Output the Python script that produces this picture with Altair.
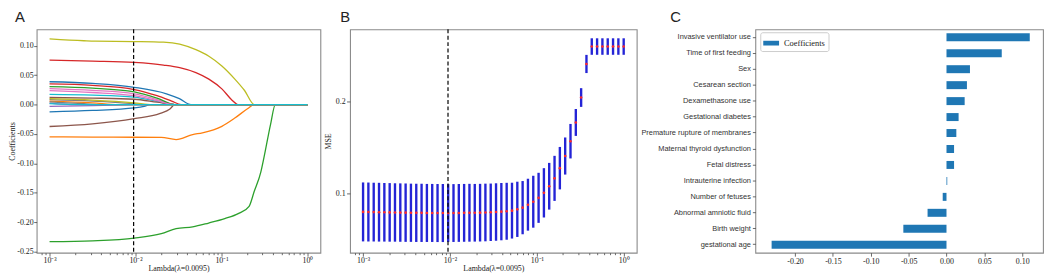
import altair as alt
import pandas as pd

# ---------------- Panel A: LASSO coefficient paths (log10 lambda, coefficient) ----------------
PATH_BLUE_NEG = [(-3, -0.0123), (-2.5, -0.0100), (-2.015, -0.0057), (-1.9, -0.0030), (-1.83, 0.0), (0, 0.0)]
PATH_ORANGE_BW = [(-3, -0.0550), (-2.5, -0.0553), (-2.015, -0.0556), (-1.7, -0.0558), (-1.528, -0.0595),
                  (-1.336, -0.0510), (-1.222, -0.0480), (-0.996, -0.0370), (-0.845, -0.0230),
                  (-0.694, -0.0067), (-0.619, 0.0), (0, 0.0)]
PATH_GREEN_GA = [(-3, -0.2333), (-2.5, -0.2318), (-2.015, -0.2272), (-1.7, -0.2195), (-1.528, -0.2110),
                 (-1.336, -0.2080), (-1.15, -0.2015), (-0.962, -0.1940), (-0.8, -0.1850), (-0.679, -0.1730),
                 (-0.62, -0.1480), (-0.543, -0.1150), (-0.506, -0.0900), (-0.43, -0.0340), (-0.374, 0.0), (0, 0.0)]
PATH_RED_FEED = [(-3, 0.0756), (-2.5, 0.0740), (-2.015, 0.0717), (-1.675, 0.0672), (-1.487, 0.0628),
                 (-1.298, 0.0544), (-1.147, 0.0433), (-0.996, 0.0267), (-0.883, 0.0083), (-0.808, 0.0), (0, 0.0)]
PATH_PURPLE_1 = [(-3, -0.0030), (-2.5, -0.0020), (-2.015, -0.0003), (-1.95, 0.0), (0, 0.0)]
PATH_BROWN_AMN = [(-3, -0.0373), (-2.5, -0.0330), (-2.015, -0.0240), (-1.713, -0.0150), (-1.6, -0.0075),
                  (-1.543, 0.0), (0, 0.0)]
PATH_PINK_1 = [(-3, 0.0270), (-2.5, 0.0240), (-2.015, 0.0183), (-1.75, 0.0085), (-1.543, 0.0), (0, 0.0)]
PATH_GRAY_1 = [(-3, 0.0085), (-2.5, 0.0060), (-2.015, 0.0015), (-1.9, 0.0), (0, 0.0)]
PATH_OLIVE_VENT = [(-3, 0.1117), (-2.6, 0.1085), (-2.47, 0.1078), (-2.015, 0.1072), (-1.675, 0.1061),
                   (-1.487, 0.1028), (-1.298, 0.0933), (-1.147, 0.0822), (-0.996, 0.0656), (-0.845, 0.0433),
                   (-0.732, 0.0239), (-0.619, 0.0), (0, 0.0)]
PATH_CYAN_1 = [(-3, 0.0172), (-2.5, 0.0160), (-2.015, 0.0127), (-1.75, 0.0055), (-1.543, 0.0), (0, 0.0)]
PATH_BLUE_SEX = [(-3, 0.0388), (-2.5, 0.0360), (-2.015, 0.0294), (-1.64, 0.0183), (-1.49, 0.0100),
                 (-1.355, 0.0), (0, 0.0)]
PATH_ORANGE_2 = [(-3, 0.0060), (-2.5, 0.0030), (-2.2, 0.0), (0, 0.0)]
PATH_GREEN_DEXA = [(-3, 0.0305), (-2.5, 0.0280), (-2.015, 0.0217), (-1.75, 0.0110), (-1.543, 0.0), (0, 0.0)]
PATH_RED_CES = [(-3, 0.0350), (-2.5, 0.0325), (-2.015, 0.0255), (-1.75, 0.0150), (-1.58, 0.0060),
                (-1.47, 0.0), (0, 0.0)]
PATH_PURPLE_2 = [(-3, 0.0025), (-2.7, 0.0), (0, 0.0)]
PATH_BROWN_2 = [(-3, 0.0120), (-2.5, 0.0110), (-2.015, 0.0090), (-1.75, 0.0040), (-1.543, 0.0), (0, 0.0)]
PATH_PINK_2 = [(-3, 0.0238), (-2.5, 0.0205), (-2.015, 0.0150), (-1.75, 0.0065), (-1.543, 0.0), (0, 0.0)]
PATH_GRAY_2 = [(-3, 0.0045), (-2.6, 0.0015), (-2.4, 0.0), (0, 0.0)]
PATH_OLIVE_2 = [(-3, 0.0100), (-2.5, 0.0075), (-2.015, 0.0030), (-1.8, 0.0), (0, 0.0)]
PATH_CYAN_2 = [(-3, 0.0015), (-2.6, 0.0), (0, 0.0)]

PATHS = [PATH_BLUE_NEG, PATH_ORANGE_BW, PATH_GREEN_GA, PATH_RED_FEED, PATH_PURPLE_1, PATH_BROWN_AMN,
         PATH_PINK_1, PATH_GRAY_1, PATH_OLIVE_VENT, PATH_CYAN_1, PATH_BLUE_SEX, PATH_ORANGE_2,
         PATH_GREEN_DEXA, PATH_RED_CES, PATH_PURPLE_2, PATH_BROWN_2, PATH_PINK_2, PATH_GRAY_2,
         PATH_OLIVE_2, PATH_CYAN_2]
CYCLE = ["#1f77b4", "#ff7f0e", "#2ca02c", "#d62728", "#9467bd",
         "#8c564b", "#e377c2", "#7f7f7f", "#bcbd22", "#17becf"]

LAMBDA_BEST = 0.0095

# ---------------- Panel B: cross-validated MSE ----------------
LAMBDAS = [0.001, 0.001151, 0.001326, 0.001526, 0.001758, 0.002024, 0.00233, 0.002683, 0.003089, 0.003556,
           0.004095, 0.004715, 0.005429, 0.006251, 0.007197, 0.008286, 0.009541, 0.01099, 0.01265, 0.01456,
           0.01677, 0.01931, 0.02223, 0.0256, 0.02947, 0.03393, 0.03907, 0.04498, 0.05179, 0.05964,
           0.06866, 0.07906, 0.09103, 0.1048, 0.1207, 0.1389, 0.16, 0.1842, 0.2121, 0.2442,
           0.2812, 0.3237, 0.3728, 0.4292, 0.4942, 0.569, 0.6551, 0.7543, 0.8685, 1.0]
MSE_MEAN = [0.0805, 0.0804, 0.0803, 0.0802, 0.0801, 0.0800, 0.0799, 0.0798, 0.0797, 0.0796,
            0.0795, 0.0795, 0.0794, 0.0794, 0.0793, 0.0793, 0.0793, 0.0793, 0.0794, 0.0795,
            0.0796, 0.0796, 0.0797, 0.0799, 0.0801, 0.0804, 0.0808, 0.0812, 0.0819, 0.0833,
            0.0851, 0.0883, 0.0915, 0.0957, 0.1011, 0.1082, 0.1167, 0.1277, 0.1408, 0.1568,
            0.1770, 0.2039, 0.2401, 0.2589, 0.2589, 0.2589, 0.2589, 0.2589, 0.2589, 0.2589]
MSE_STD = [0.0318, 0.0318, 0.0317, 0.0317, 0.0316, 0.0316, 0.0315, 0.0315, 0.0315, 0.0314,
           0.0314, 0.0314, 0.0313, 0.0313, 0.0313, 0.0313, 0.0312, 0.0312, 0.0312, 0.0312,
           0.0312, 0.0311, 0.0311, 0.0311, 0.0310, 0.0310, 0.0309, 0.0307, 0.0301, 0.0298,
           0.0287, 0.0280, 0.0280, 0.0270, 0.0266, 0.0252, 0.0243, 0.0229, 0.0200, 0.0186,
           0.0145, 0.0101, 0.0098, 0.0089, 0.0089, 0.0089, 0.0089, 0.0089, 0.0089, 0.0089]

# ---------------- Panel C: coefficients ----------------
FEATURES = ["Invasive ventilator use", "Time of first feeding", "Sex", "Cesarean section",
            "Dexamethasone use", "Gestational diabetes", "Premature rupture of membranes",
            "Maternal thyroid dysfunction", "Fetal distress", "Intrauterine infection",
            "Number of fetuses", "Abnormal amniotic fluid", "Birth weight", "gestational age"]
COEFS = [0.110, 0.073, 0.031, 0.027, 0.024, 0.016, 0.013, 0.010, 0.010, 0.001,
         -0.005, -0.025, -0.057, -0.231]

# ---------------- tables ----------------
rows = []
for k, path in enumerate(PATHS):
    for (L, c) in path:
        rows.append({"sid": f"s{k:02d}", "lam": 10 ** L, "coef": c})
dfA = pd.DataFrame(rows)
sids = [f"s{k:02d}" for k in range(len(PATHS))]
cols = [CYCLE[k % 10] for k in range(len(PATHS))]

dfB = pd.DataFrame({"lam": LAMBDAS, "mse": MSE_MEAN, "std": MSE_STD})
dfB["lo"] = dfB["mse"] - dfB["std"]
dfB["hi"] = dfB["mse"] + dfB["std"]

dfC = pd.DataFrame({"feature": FEATURES, "coef": COEFS, "series": "Coefficients"})
dfBest = pd.DataFrame({"lam": [LAMBDA_BEST]})

SERIF = "Liberation Serif"
H = 226
XDOM = [10 ** -3.15, 10 ** 0.15]
XVALS = [0.0008, 0.0009, 0.001, 0.002, 0.003, 0.004, 0.005, 0.006, 0.007, 0.008, 0.009,
         0.01, 0.02, 0.03, 0.04, 0.05, 0.06, 0.07, 0.08, 0.09,
         0.1, 0.2, 0.3, 0.4, 0.5, 0.6, 0.7, 0.8, 0.9, 1.0]
MAJOR = "datum.value == 0.001 || datum.value == 0.01 || datum.value == 0.1 || datum.value == 1"
LBL = ("datum.value == 0.001 ? '10\u207b\u00b3' : datum.value == 0.01 ? '10\u207b\u00b2' : "
       "datum.value == 0.1 ? '10\u207b\u00b9' : datum.value == 1 ? '10\u2070' : ''")
HY2 = "replace(format(datum.value, '.2f'), '\u2212', '-')"


def xlog(field="lam"):
    return alt.X(f"{field}:Q",
                 scale=alt.Scale(type="log", domain=XDOM, nice=False),
                 axis=alt.Axis(values=XVALS, labelExpr=LBL, labelOverlap=False, labelFlush=False,
                               tickSize={"condition": {"test": MAJOR, "value": 3.5}, "value": 2},
                               title="Lambda(\u03bb=0.0095)", labelPadding=0, titlePadding=0))


def letter(t, x, y=-7):
    return alt.Chart(pd.DataFrame({"t": [t]})).mark_text(
        font="Liberation Sans", fontSize=15, align="left", baseline="alphabetic", color="#222"
    ).encode(x=alt.value(x), y=alt.value(y), text="t:N")


# Panel A
linesA = alt.Chart(dfA).mark_line(strokeWidth=1.3, interpolate="monotone").encode(
    x=xlog(),
    y=alt.Y("coef:Q", scale=alt.Scale(domain=[-0.252, 0.128], nice=False, zero=False),
            axis=alt.Axis(values=[-0.25, -0.2, -0.15, -0.1, -0.05, 0.0, 0.05, 0.1], labelExpr=HY2,
                          title="Coefficients", tickSize=3, labelPadding=0.5, titlePadding=0)),
    color=alt.Color("sid:N", scale=alt.Scale(domain=sids, range=cols), legend=None),
    order=alt.Order("lam:Q"),
)
ruleA = alt.Chart(dfBest).mark_rule(color="black", strokeDash=[4, 2.5], strokeWidth=1.2).encode(x=xlog())
panelA = alt.layer(linesA, ruleA, letter("A", -22)).properties(width=287, height=H)

# Panel B
errB = alt.Chart(dfB).mark_rule(color="#2424d6", strokeWidth=2.4).encode(
    x=xlog(),
    y=alt.Y("lo:Q", scale=alt.Scale(domain=[0.0365, 0.2775], nice=False, zero=False),
            axis=alt.Axis(values=[0.1, 0.2], format=".1f", title="MSE", tickSize=3.5,
                          labelPadding=1.5, titlePadding=3)),
    y2="hi:Q",
)
ptsB = alt.Chart(dfB).mark_point(filled=True, shape="circle", size=7, color="#ff2a2a", opacity=1).encode(
    x=xlog(), y=alt.Y("mse:Q", scale=alt.Scale(domain=[0.0365, 0.2775], nice=False, zero=False)))
ruleB = alt.Chart(dfBest).mark_rule(color="black", strokeDash=[4, 2.5], strokeWidth=1.2).encode(x=xlog())
panelB = alt.layer(errB, ptsB, ruleB, letter("B", -10)).properties(width=290, height=H)

# Panel C
barsC = alt.Chart(dfC).mark_bar().encode(
    y=alt.Y("feature:N", sort=FEATURES, scale=alt.Scale(paddingInner=0.5, paddingOuter=0.25),
            axis=alt.Axis(title=None, labelFont="Liberation Sans", labelFontSize=7.5, tickSize=3,
                          labelPadding=2, labelColor="#333")),
    x=alt.X("coef:Q", scale=alt.Scale(domain=[-0.2525, 0.1275], nice=False),
            axis=alt.Axis(values=[-0.2, -0.15, -0.1, -0.05, 0.0, 0.05, 0.1], labelExpr=HY2, title=None,
                          tickSize=3.5, labelPadding=1, labelFlush=False)),
    color=alt.Color("series:N", scale=alt.Scale(domain=["Coefficients"], range=["#1f77b4"]),
                    legend=alt.Legend(title=None, orient="none", legendX=5, legendY=3,
                                      symbolType="M-1,-0.3L1,-0.3L1,0.3L-1,0.3Z", symbolSize=256,
                                      symbolStrokeWidth=0, symbolOpacity=1, labelFont=SERIF,
                                      labelFontSize=8.5, labelColor="#222", padding=3,
                                      strokeColor="#cccccc", fillColor="white", cornerRadius=2,
                                      labelOffset=5)),
)
panelC = alt.layer(barsC, letter("C", -86)).properties(width=291, height=H)

chart = alt.hconcat(panelA, panelB, panelC, spacing=2).resolve_scale(color="independent").properties(
    padding=0, background="white"
).configure_view(stroke="#8a8a8a", strokeWidth=1.1).configure_axis(
    grid=False, domain=False, labelFont=SERIF, labelFontSize=8, titleFont=SERIF, titleFontSize=8,
    titleFontWeight="normal", labelColor="#222", titleColor="#222", tickColor="#444", tickWidth=0.8
)

chart.save("out.html", embed_options={"renderer": "svg", "actions": False})
